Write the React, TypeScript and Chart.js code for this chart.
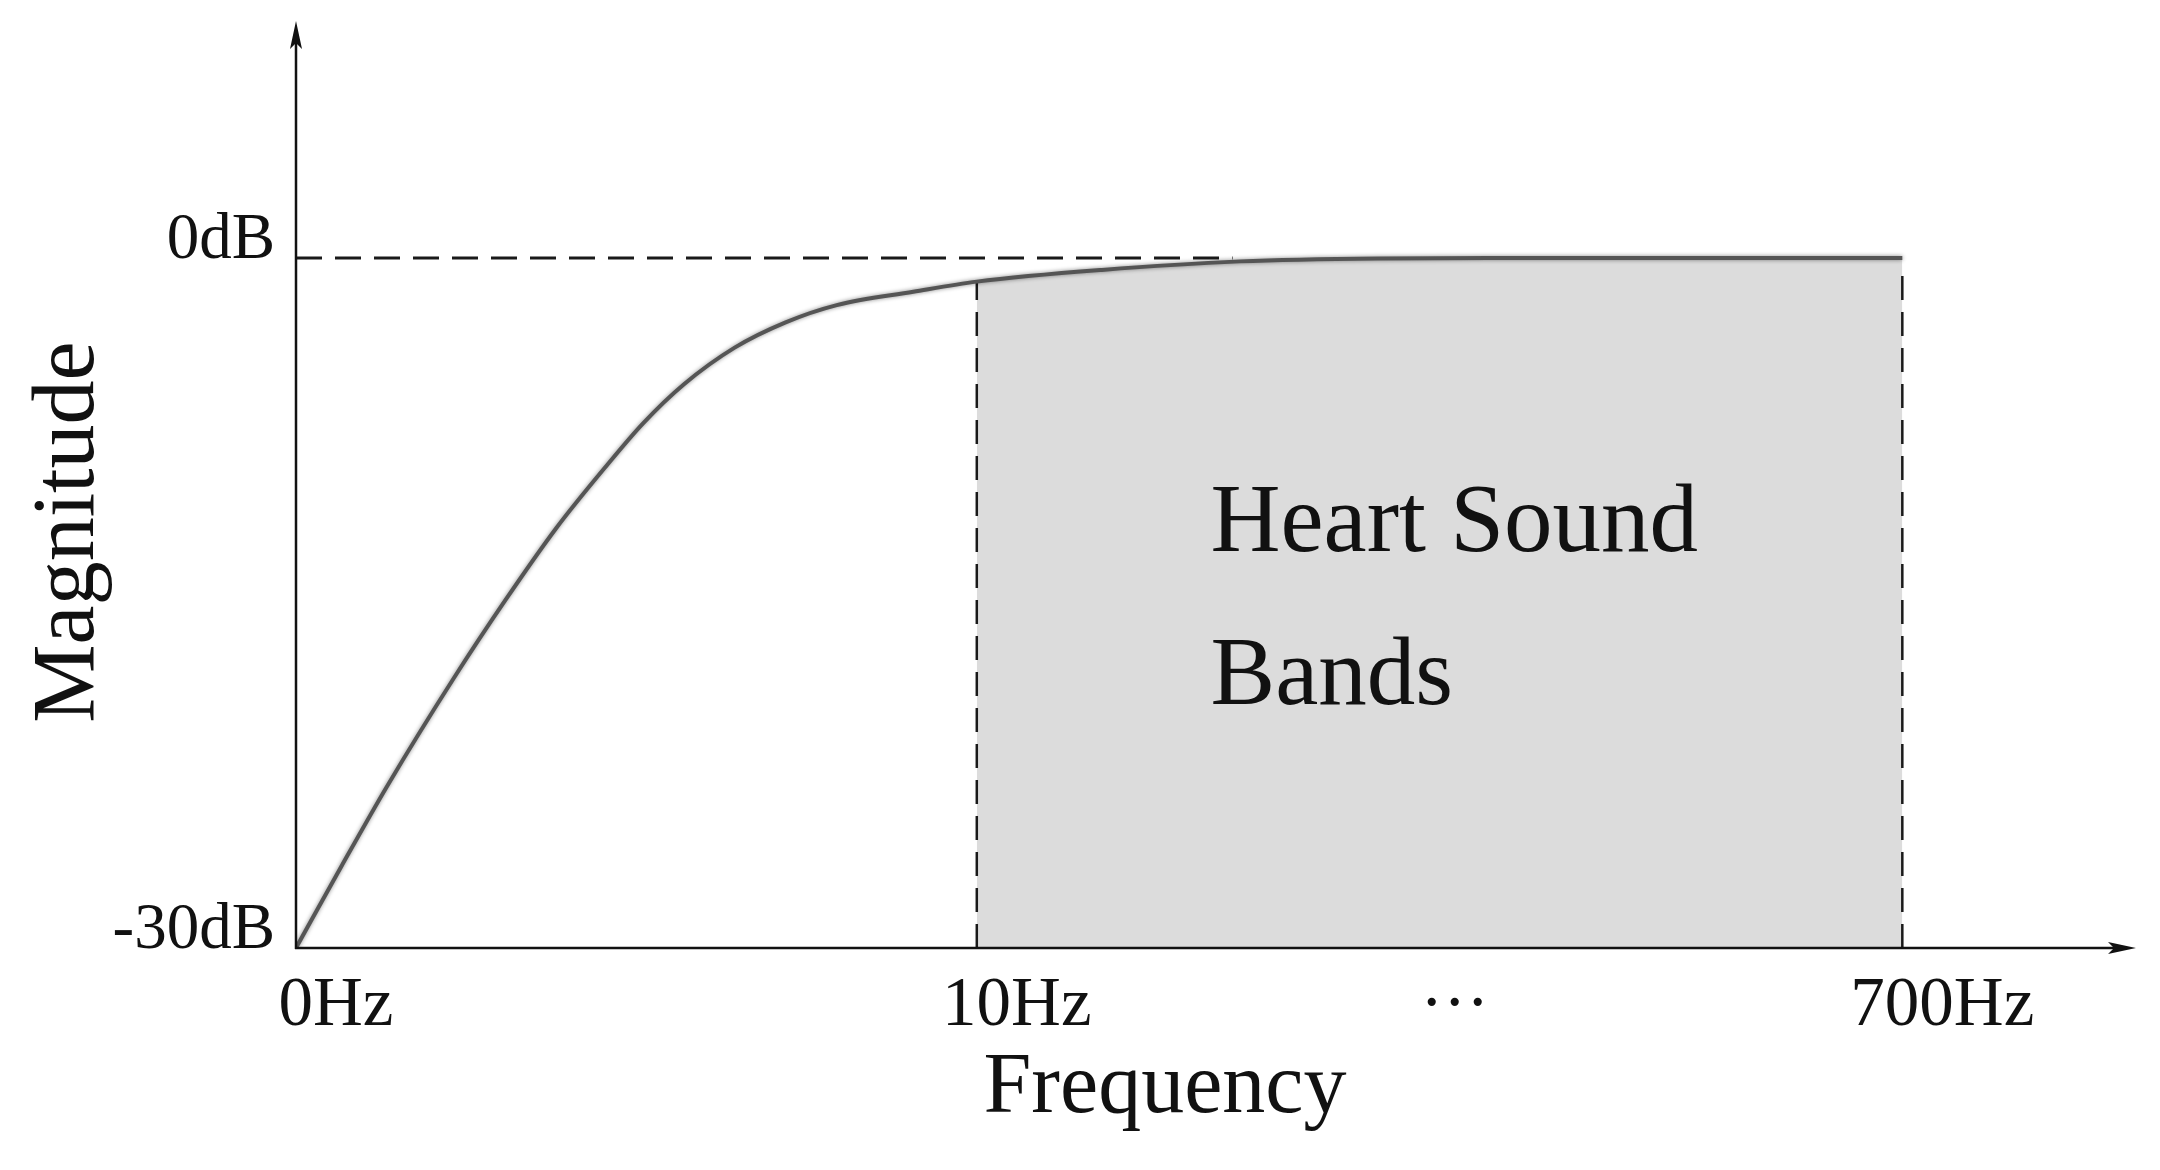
import React, { useEffect, useRef } from 'react';
import { Chart, registerables } from 'chart.js';

Chart.register(...registerables);

// Schematic position along the frequency axis (0 = 0Hz, 100 = axis arrow end)
const curveX = [0, 2.5, 5.0, 8.59, 11.36, 14.14, 16.91, 18.85, 21.07, 23.84, 26.61, 29.39, 33.55, 37.0, 43.8, 51.3, 58.8, 66.0, 76.0, 87.3];
// Magnitude in dB
const curveDb = [-30, -26.4, -22.9, -18.25, -14.9, -11.75, -9.0, -7.2, -5.5, -3.9, -2.8, -2.05, -1.47, -1.03, -0.52, -0.15, -0.02, 0.0, 0.0, 0.0];

const bandStartX = 37.0; // 10Hz
const bandEndX = 87.3; // 700Hz
const zeroDbLineEndX = 50.9;
const bandTopDbAtEnd = -0.43;

const xTickPositions = [0, 37.0, 60.8, 87.3];
const xTickLabels = ['0Hz', '10Hz', '···', '700Hz'];
const yTickValues = [-30, 0];
const yTickLabels = ['-30dB', '0dB'];

const bandText = ['Heart Sound', 'Bands'];
const bandTextX = 49.7;
const bandTextDb = [-12.74, -19.4];

const xTitle = 'Frequency';
const yTitle = 'Magnitude';

const FONT = "'Liberation Serif', 'Times New Roman', serif";

export default function App() {
  const ref = useRef<HTMLCanvasElement | null>(null);

  useEffect(() => {
    if (!ref.current) return;

    const curve = curveX.map((x, i) => ({ x, y: curveDb[i] }));
    const band = curve.filter((p) => p.x >= bandStartX && p.x <= bandEndX);
    const dbAt10 = curveDb[curveX.indexOf(bandStartX)];

    const decor = {
      id: 'decor',
      beforeDatasetDraw(chart: any, args: any) {
        chart.ctx.save();
        if (args.meta.label === 'curve') {
          chart.ctx.shadowColor = 'rgba(0,0,0,0.45)';
          chart.ctx.shadowBlur = 4;
        }
      },
      afterDatasetDraw(chart: any) {
        chart.ctx.restore();
      },
      afterDatasetsDraw(chart: any) {
        const { ctx, chartArea: a, scales } = chart;
        const ox = a.left;
        const oy = a.bottom;
        ctx.save();
        ctx.strokeStyle = '#111';
        ctx.fillStyle = '#111';
        ctx.lineWidth = 2.5;
        ctx.beginPath();
        ctx.moveTo(ox, oy + 1);
        ctx.lineTo(ox, a.top + 10);
        ctx.stroke();
        ctx.beginPath();
        ctx.moveTo(ox - 1, oy);
        ctx.lineTo(a.right - 10, oy);
        ctx.stroke();
        // arrow heads
        ctx.beginPath();
        ctx.moveTo(ox, a.top);
        ctx.lineTo(ox - 6, a.top + 28);
        ctx.lineTo(ox, a.top + 22);
        ctx.lineTo(ox + 6, a.top + 28);
        ctx.closePath();
        ctx.fill();
        ctx.beginPath();
        ctx.moveTo(a.right, oy);
        ctx.lineTo(a.right - 28, oy - 6);
        ctx.lineTo(a.right - 22, oy);
        ctx.lineTo(a.right - 28, oy + 6);
        ctx.closePath();
        ctx.fill();

        // band text
        ctx.fillStyle = '#111';
        ctx.font = `97px ${FONT}`;
        ctx.textAlign = 'left';
        ctx.textBaseline = 'alphabetic';
        bandText.forEach((t, i) => {
          ctx.fillText(t, scales.x.getPixelForValue(bandTextX), scales.y.getPixelForValue(bandTextDb[i]));
        });

        // axis titles
        ctx.font = `86px ${FONT}`;
        ctx.textAlign = 'center';
        ctx.fillText(xTitle, a.left + 869, a.bottom + 164);
        ctx.font = `88px ${FONT}`;
        ctx.save();
        ctx.translate(a.left - 203, a.top + 511);
        ctx.rotate(-Math.PI / 2);
        ctx.fillText(yTitle, 0, 0);
        ctx.restore();
        ctx.restore();
      },
    };

    const chart = new Chart(ref.current, {
      type: 'line',
      data: {
        datasets: [
          {
            label: 'curve',
            data: curve,
            borderColor: '#555555',
            borderWidth: 4,
            pointRadius: 0,
            cubicInterpolationMode: 'monotone',
            fill: false,
            order: 1,
          },
          {
            label: 'zero',
            data: [{ x: 0, y: 0 }, { x: zeroDbLineEndX, y: 0 }],
            borderColor: '#1a1a1a',
            borderWidth: 3,
            borderDash: [26, 13],
            pointRadius: 0,
            fill: false,
            order: 3,
          },
          {
            label: 'v10',
            data: [{ x: bandStartX, y: -30 }, { x: bandStartX, y: dbAt10 }],
            borderColor: '#1a1a1a',
            borderWidth: 2.5,
            borderDash: [24, 12],
            pointRadius: 0,
            fill: false,
            order: 3,
          },
          {
            label: 'v700',
            data: [{ x: bandEndX, y: -30 }, { x: bandEndX, y: bandTopDbAtEnd }],
            borderColor: '#1a1a1a',
            borderWidth: 2.5,
            borderDash: [24, 12],
            pointRadius: 0,
            fill: false,
            order: 3,
          },
          {
            label: 'band',
            data: band,
            borderWidth: 0,
            borderColor: 'rgba(0,0,0,0)',
            backgroundColor: '#dcdcdc',
            pointRadius: 0,
            cubicInterpolationMode: 'monotone',
            fill: 'start',
            order: 5,
          },
        ],
      },
      options: {
        animation: false,
        responsive: true,
        maintainAspectRatio: false,
        layout: { padding: { top: 21, right: 24, left: 0, bottom: 0 }, autoPadding: false },
        plugins: { legend: { display: false }, tooltip: { enabled: false } },
        scales: {
          x: {
            type: 'linear',
            min: 0,
            max: 100,
            grid: { display: false, drawTicks: false, tickLength: 0 },
            border: { display: false },
            afterFit: (s: any) => {
              s.height = 222;
              s.paddingLeft = 0;
              s.paddingRight = 0;
            },
            afterBuildTicks: (s: any) => {
              s.ticks = xTickPositions.map((v) => ({ value: v }));
            },
            ticks: {
              autoSkip: false,
              maxRotation: 0,
              padding: 17,
              labelOffset: 40,
              color: '#111',
              font: { family: FONT, size: 69 },
              callback: (v: any) => {
                const i = xTickPositions.indexOf(Number(v));
                return i >= 0 ? xTickLabels[i] : '';
              },
            },
          },
          y: {
            type: 'linear',
            min: -30,
            max: 10.3,
            grid: { display: false, drawTicks: false, tickLength: 0 },
            border: { display: false },
            afterFit: (s: any) => {
              s.width = 296;
              s.paddingTop = 0;
              s.paddingBottom = 0;
            },
            afterBuildTicks: (s: any) => {
              s.ticks = yTickValues.map((v) => ({ value: v }));
            },
            ticks: {
              padding: 21,
              labelOffset: -17,
              color: '#111',
              font: { family: FONT, size: 65 },
              callback: (v: any) => {
                const i = yTickValues.indexOf(Number(v));
                return i >= 0 ? yTickLabels[i] : '';
              },
            },
          },
        },
      },
      plugins: [decor],
    } as any);

    return () => chart.destroy();
  }, []);

  return (
    <div style={{ position: 'fixed', left: 0, top: 0, width: 2160, height: 1170, background: '#fff' }}>
      <canvas ref={ref} />
    </div>
  );
}
